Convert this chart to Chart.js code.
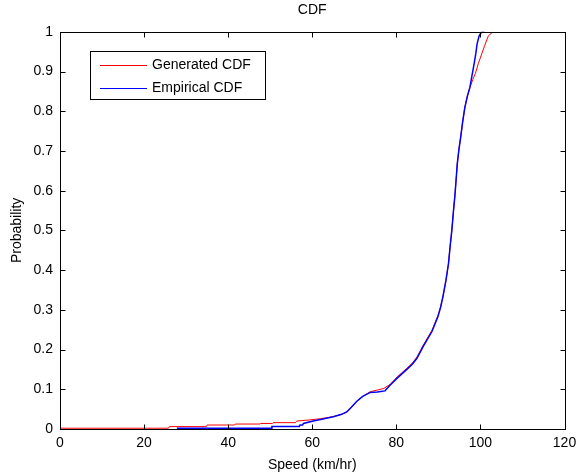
<!DOCTYPE html>
<html>
<head>
<meta charset="utf-8">
<script src="https://cdn.jsdelivr.net/npm/chart.js@4/dist/chart.umd.min.js"></script>
<style>
  html, body { margin: 0; padding: 0; background: #fff; }
  #wrap { width: 579px; height: 474px; }
</style>
</head>
<body>
<div id="wrap"><canvas id="cdfChart"></canvas></div>
<script>
// fitted distribution (red) and measured speeds (blue)
var genSpeed = [0, 25.8, 26, 34.8, 35, 41.5, 41.7, 47.5, 47.7, 50.5, 50.7, 56, 56.3, 59.5, 62, 65, 67, 68.2, 69.3, 70.6, 72, 73.8, 75.5, 77, 78.5, 80.2, 82.5, 83.8, 84.9, 86.4, 88.5, 89.9, 90.5, 91.1, 91.8, 92.4, 92.8, 93.2, 93.6, 93.9, 94.2, 94.5, 94.9, 95.3, 95.8, 96.3, 96.9, 97.5, 98.2, 98.8, 99.5, 100.3, 101, 101.9, 103];
var genProb = [0.002, 0.002, 0.006, 0.006, 0.01, 0.01, 0.0125, 0.0125, 0.014, 0.014, 0.016, 0.016, 0.02, 0.023, 0.026, 0.031, 0.037, 0.043, 0.055, 0.07, 0.082, 0.094, 0.098, 0.102, 0.112, 0.131, 0.153, 0.166, 0.181, 0.211, 0.249, 0.286, 0.307, 0.334, 0.374, 0.416, 0.46, 0.5, 0.55, 0.584, 0.625, 0.668, 0.705, 0.734, 0.775, 0.81, 0.838, 0.86, 0.88, 0.895, 0.92, 0.944, 0.965, 0.99, 1];

var empSpeed = [27.8, 50.2, 50.4, 56.9, 57.1, 57.7, 57.9, 60.2, 62, 65, 67, 68.2, 69.3, 70.6, 72, 73.8, 75.5, 77.3, 78.5, 80.2, 82.5, 83.8, 84.9, 86.4, 88.5, 89.9, 90.5, 91.1, 91.8, 92.4, 92.8, 93.2, 93.6, 93.9, 94.2, 94.5, 94.9, 95.3, 95.8, 96.3, 96.9, 97.5, 98, 98.5, 98.9, 99.2, 99.7, 100.3, 101];
var empProb = [0.002, 0.002, 0.006, 0.006, 0.01, 0.01, 0.014, 0.02, 0.024, 0.031, 0.037, 0.043, 0.055, 0.07, 0.082, 0.092, 0.093, 0.096, 0.11, 0.128, 0.15, 0.163, 0.178, 0.208, 0.246, 0.283, 0.305, 0.334, 0.374, 0.416, 0.46, 0.5, 0.55, 0.584, 0.625, 0.668, 0.705, 0.734, 0.775, 0.81, 0.838, 0.86, 0.89, 0.919, 0.945, 0.969, 0.99, 1, 1];

var seriesNames = ["Generated CDF", "Empirical CDF"];
var seriesColors = ["#ff0000", "#0000ff"];

function toPoints(xs, ys) {
    return xs.map(function (x, i) { return { x: x, y: ys[i] }; });
}

var FONT = "Liberation Sans, Arial, sans-serif";

// box frame, inward ticks and the boxed legend
var matlabFrame = {
    id: "matlabFrame",
    afterDatasetsDraw: function (chart) {
        var ctx = chart.ctx;
        var a = chart.chartArea;
        var xs = chart.scales.x, ys = chart.scales.y;
        var L = Math.round(a.left) + 0.5, R = Math.round(a.right) + 0.5;
        var T = Math.round(a.top) + 0.5, B = Math.round(a.bottom) + 0.5;
        ctx.save();
        ctx.strokeStyle = "#000";
        ctx.lineWidth = 1;
        ctx.strokeRect(L, T, R - L, B - T);
        ctx.beginPath();
        xs.ticks.forEach(function (t) {
            var px = Math.round(xs.getPixelForValue(t.value)) + 0.5;
            ctx.moveTo(px, B); ctx.lineTo(px, B - 5);
            ctx.moveTo(px, T); ctx.lineTo(px, T + 5);
        });
        ys.ticks.forEach(function (t) {
            var py = Math.round(ys.getPixelForValue(t.value)) + 0.5;
            ctx.moveTo(L, py); ctx.lineTo(L + 5, py);
            ctx.moveTo(R, py); ctx.lineTo(R - 5, py);
        });
        ctx.stroke();

        // legend
        var bx = 90.5, by = 51.5, bw = 175, bh = 48;
        ctx.fillStyle = "#fff";
        ctx.fillRect(bx, by, bw, bh);
        ctx.strokeRect(bx, by, bw, bh);
        ctx.font = "14px " + FONT;
        ctx.textBaseline = "middle";
        ctx.textAlign = "left";
        seriesNames.forEach(function (name, i) {
            var ly = 65.5 + i * 23;
            ctx.strokeStyle = seriesColors[i];
            ctx.beginPath();
            ctx.moveTo(100, ly); ctx.lineTo(147, ly);
            ctx.stroke();
            ctx.fillStyle = "#000";
            ctx.fillText(name, 152, ly);
        });
        ctx.restore();
    }
};

var config = {
    type: "line",
    data: {
        datasets: [{
            label: seriesNames[0],
            data: toPoints(genSpeed, genProb),
            borderColor: seriesColors[0],
            borderWidth: 1,
            pointRadius: 0,
            tension: 0,
            order: 1
        }, {
            label: seriesNames[1],
            data: toPoints(empSpeed, empProb),
            borderColor: seriesColors[1],
            borderWidth: 1.5,
            pointRadius: 0,
            tension: 0,
            order: 0
        }]
    },
    options: {
        responsive: true,
        maintainAspectRatio: false,
        animation: false,
        layout: { padding: { left: 0, right: 14.5, top: 0, bottom: 0 } },
        plugins: {
            legend: { display: false },
            tooltip: { enabled: false },
            title: {
                display: true,
                text: "CDF",
                color: "#000",
                fullSize: false,
                font: { family: FONT, size: 14, weight: "normal" },
                padding: { top: 2, bottom: 13 }
            }
        },
        scales: {
            x: {
                type: "linear",
                min: 0,
                max: 120,
                grid: { display: false, drawTicks: false },
                border: { display: false },
                ticks: { stepSize: 20, color: "#000", padding: 6, font: { family: FONT, size: 14 } },
                title: { display: true, text: "Speed (km/hr)", color: "#000", padding: 0, font: { family: FONT, size: 14 } },
                afterFit: function (s) { s.height = 45; s.paddingLeft = 0; s.paddingRight = 0; }
            },
            y: {
                type: "linear",
                min: 0,
                max: 1,
                grid: { display: false, drawTicks: false },
                border: { display: false },
                ticks: {
                    stepSize: 0.1,
                    color: "#000",
                    padding: 7,
                    font: { family: FONT, size: 14 },
                    callback: function (v) { return String(Number(v.toFixed(1))); }
                },
                title: { display: true, text: "Probability", color: "#000", padding: { top: 9, bottom: 0 }, font: { family: FONT, size: 14 } },
                afterFit: function (s) { s.width = 60; s.paddingTop = 0; s.paddingBottom = 0; }
            }
        }
    },
    plugins: [matlabFrame]
};

var cdfChart = new Chart(document.getElementById("cdfChart"), config);
</script>
</body>
</html>
